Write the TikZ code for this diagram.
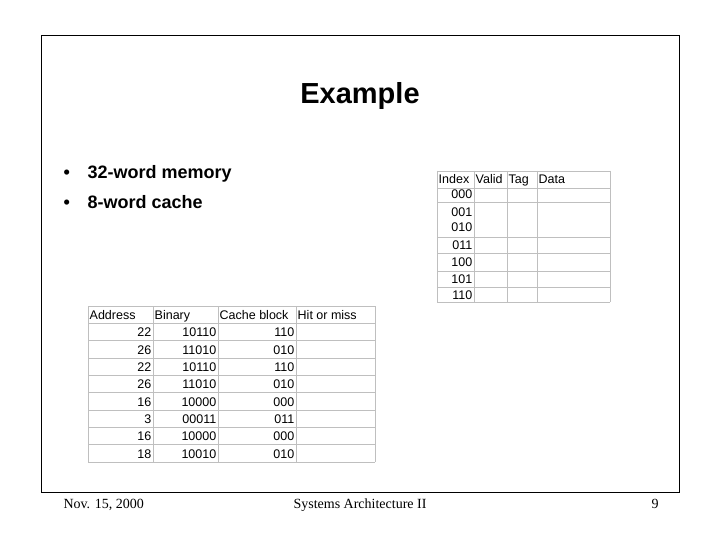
\documentclass[tikz,border=0pt]{standalone}
\usepackage{fontspec}
\setmainfont{Liberation Sans}
\newfontfamily\timesf{Liberation Serif}
\begin{document}
\begin{tikzpicture}[x=1pt,y=-1pt,
  grid/.style={draw=black!25,line width=0.8pt},
  cell/.style={font=\fontsize{12.5}{14}\selectfont,inner sep=1.5pt},
  foot/.style={font=\timesf\fontsize{14}{16}\selectfont}]
\useasboundingbox (0,0) rectangle (720,540);
\fill[white] (0,0) rectangle (720,540);
\draw[line width=1pt] (41,36) rectangle (679,492);
\node[anchor=base] (title) at (360,104) {\fontsize{29}{32}\selectfont\bfseries Example};
\node[anchor=base west] (b1) at (60,179) {\fontsize{18}{20}\selectfont\bfseries •};
\node[anchor=base west] (t1) at (84,179) {\fontsize{18}{20}\selectfont\bfseries 32-word memory};
\node[anchor=base west] (b2) at (60,208) {\fontsize{18}{20}\selectfont\bfseries •};
\node[anchor=base west] (t2) at (84,208) {\fontsize{18}{20}\selectfont\bfseries 8-word cache};
% cache table
\foreach \y in {171,188,202,237,253,271,287,302} \draw[grid] (437,\y) -- (610,\y);
\foreach \x in {437,474,507,537,610} \draw[grid] (\x,171) -- (\x,302);
\node[cell,anchor=base west] (hi) at (437,184) {Index};
\node[cell,anchor=base west] (hv) at (474,184) {Valid};
\node[cell,anchor=base west] (ht) at (507,184) {Tag};
\node[cell,anchor=base west] (hd) at (537,184) {Data};
\foreach \t/\y [count=\i] in {000/199,001/216,010/232,011/249,100/266,101/283,110/299}
  \node[cell,anchor=base east] (ci\i) at (474,\y) {\t};
% address table
\foreach \i in {0,...,9} \draw[grid] (88,306+\i*17.33) -- (375,306+\i*17.33);
\foreach \x in {88,153,218,296,375} \draw[grid] (\x,306) -- (\x,462);
\node[cell,anchor=base west] (ha) at (88,319.5) {Address};
\node[cell,anchor=base west] (hb) at (153,319.5) {Binary};
\node[cell,anchor=base west] (hc) at (218,319.5) {Cache block};
\node[cell,anchor=base west] (hh) at (296,319.5) {Hit or miss};
\foreach \a/\b/\c [count=\i] in {22/10110/110,26/11010/010,22/10110/110,26/11010/010,16/10000/000,3/00011/011,16/10000/000,18/10010/010}{
  \node[cell,anchor=base east] (a\i) at (153,319.5+\i*17.33) {\a};
  \node[cell,anchor=base east] (bn\i) at (218,319.5+\i*17.33) {\b};
  \node[cell,anchor=base east] (cb\i) at (296,319.5+\i*17.33) {\c};
}
\node[foot,anchor=base west] (f1) at (60,508) {Nov. 15, 2000};
\node[foot,anchor=base] (f2) at (360,508) {Systems Architecture II};
\node[foot,anchor=base] (f3) at (655,508) {9};
\end{tikzpicture}
\end{document}
